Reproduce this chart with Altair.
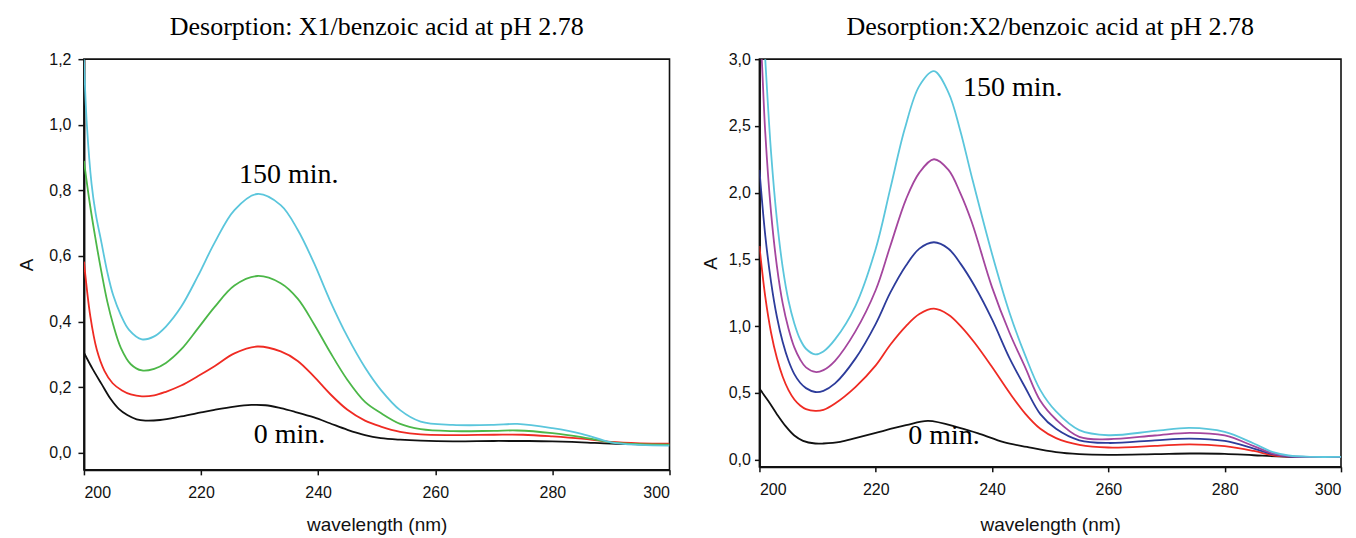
import altair as alt
import pandas as pd

# ---------------- Left panel: X1/benzoic acid ----------------
L_cyan_nm = [200, 200.5, 201.3, 202, 203, 204, 205, 206.3, 207.7, 209.9, 212, 214, 216.6, 219.5, 222.3, 225.7, 229.6, 233.6, 236.5, 239.3, 242, 245, 248, 250.7, 254, 257.5, 263, 270, 274, 280, 285, 290, 295, 300]
L_cyan_A = [1.2, 1.0, 0.82, 0.73, 0.64, 0.55, 0.48, 0.42, 0.375, 0.346, 0.355, 0.385, 0.445, 0.54, 0.64, 0.74, 0.789, 0.755, 0.68, 0.578, 0.465, 0.354, 0.26, 0.192, 0.13, 0.095, 0.085, 0.085, 0.088, 0.075, 0.058, 0.032, 0.024, 0.022]

L_green_nm = [200, 201, 202, 203, 204, 205, 206.3, 208, 209.9, 212, 214, 216.6, 219.5, 222.3, 225.7, 229.6, 233.6, 236.5, 239.3, 242, 245, 248, 250.7, 254, 257.5, 263, 270, 274, 280, 285, 290, 295, 300]
L_green_A = [0.89, 0.76, 0.65, 0.55, 0.46, 0.39, 0.32, 0.27, 0.251, 0.256, 0.274, 0.315, 0.38, 0.444, 0.51, 0.539, 0.517, 0.47, 0.392, 0.308, 0.222, 0.155, 0.121, 0.088, 0.072, 0.066, 0.067, 0.068, 0.06, 0.048, 0.032, 0.026, 0.025]

L_red_nm = [200, 201.1, 202.2, 203.5, 204.9, 206.5, 208, 209.9, 212, 214, 216.6, 219.5, 222.3, 225.7, 229.6, 233.6, 236.5, 239.3, 242, 245, 248, 250.7, 254, 257.5, 263, 270, 275, 280, 285, 290, 295, 300]
L_red_A = [0.583, 0.415, 0.314, 0.25, 0.212, 0.19, 0.178, 0.172, 0.175, 0.186, 0.205, 0.234, 0.264, 0.303, 0.324, 0.309, 0.28, 0.232, 0.18, 0.131, 0.098, 0.08, 0.064, 0.056, 0.054, 0.055, 0.055, 0.05, 0.043, 0.033, 0.029, 0.028]

L_black_nm = [200, 201.5, 203, 204.6, 206, 207.4, 209, 210.5, 213, 216.6, 220, 222.3, 225.7, 228.6, 231, 233.6, 236, 239.3, 242, 245, 248, 250.7, 254, 257.5, 263, 270, 276, 280, 285, 290, 295, 300]
L_black_A = [0.305, 0.255, 0.21, 0.163, 0.133, 0.115, 0.102, 0.098, 0.1, 0.111, 0.123, 0.131, 0.141, 0.146, 0.145, 0.136, 0.125, 0.108, 0.09, 0.07, 0.054, 0.045, 0.04, 0.037, 0.035, 0.036, 0.036, 0.035, 0.032, 0.028, 0.026, 0.025]

# ---------------- Right panel: X2/benzoic acid ----------------
R_cyan_nm = [200, 201, 202, 203, 204, 205, 206, 207, 208, 209.6, 211, 213, 216.5, 220, 222.5, 225, 227.5, 230, 232.5, 234.5, 236.5, 240, 243, 245.7, 248.3, 251, 255, 260, 268, 274, 280, 285, 288.3, 291, 295, 300]
R_cyan_A = [3.8, 3.0, 2.3, 1.8, 1.44, 1.19, 1.02, 0.9, 0.83, 0.788, 0.81, 0.9, 1.15, 1.58, 2.03, 2.48, 2.8, 2.91, 2.75, 2.47, 2.12, 1.54, 1.1, 0.78, 0.52, 0.36, 0.22, 0.182, 0.214, 0.237, 0.207, 0.12, 0.055, 0.03, 0.02, 0.02]

R_purple_nm = [200, 200.4, 201, 202, 203, 204, 205, 206, 207, 208, 209.6, 211, 213, 216.5, 220, 222.5, 225.2, 227.5, 230, 232.5, 234.5, 236.5, 240, 243, 245.7, 248.3, 251, 255, 260, 268, 274, 280, 285, 288.3, 291, 295, 300]
R_purple_A = [3.3, 3.0, 2.45, 1.85, 1.45, 1.17, 0.98, 0.84, 0.75, 0.69, 0.656, 0.67, 0.74, 0.96, 1.27, 1.6, 1.95, 2.15, 2.25, 2.17, 2.0, 1.78, 1.29, 0.95, 0.69, 0.44, 0.3, 0.17, 0.152, 0.18, 0.2, 0.18, 0.1, 0.045, 0.025, 0.02, 0.02]

R_blue_nm = [200, 201, 202, 203, 204, 205, 206, 207, 208, 209.6, 211, 213, 216.5, 220, 222.5, 225.2, 227.5, 230, 232.5, 234.6, 237, 240, 243, 245.7, 248.3, 251, 255, 260, 268, 274, 280, 285, 288.3, 291, 295, 300]
R_blue_A = [2.17, 1.68, 1.33, 1.07, 0.88, 0.74, 0.64, 0.575, 0.535, 0.506, 0.515, 0.57, 0.756, 1.017, 1.25, 1.454, 1.58, 1.628, 1.58, 1.466, 1.3, 1.05, 0.76, 0.54, 0.34, 0.23, 0.144, 0.124, 0.144, 0.157, 0.139, 0.082, 0.04, 0.022, 0.02, 0.02]

R_red_nm = [200, 201, 202, 203, 204, 205, 206, 207, 208, 209.6, 211, 213, 216.5, 220, 222.5, 225.2, 227.5, 230, 232.5, 234.6, 237, 240, 243, 245.7, 248.3, 251, 255, 260, 268, 274, 280, 285, 288.3, 291, 295, 300]
R_red_A = [1.6, 1.22, 0.95, 0.76, 0.62, 0.52, 0.45, 0.405, 0.378, 0.364, 0.372, 0.42, 0.543, 0.705, 0.86, 1.0, 1.09, 1.13, 1.085, 1.0, 0.875, 0.693, 0.5, 0.344, 0.23, 0.16, 0.11, 0.09, 0.102, 0.114, 0.1, 0.064, 0.032, 0.022, 0.02, 0.02]

R_black_nm = [200, 201.5, 203, 204.5, 206, 207.5, 209.6, 211, 213.9, 216.5, 220, 225.2, 229, 234.6, 238, 242, 246, 251, 255, 260, 268, 274, 280, 285, 290, 300]
R_black_A = [0.531, 0.44, 0.34, 0.25, 0.18, 0.14, 0.12, 0.12, 0.132, 0.16, 0.2, 0.257, 0.289, 0.235, 0.19, 0.13, 0.094, 0.055, 0.04, 0.035, 0.04, 0.045, 0.043, 0.032, 0.022, 0.02]

# annotations
L_labels = ["150 min.", "0 min."]
L_label_nm = [226.5, 229.0]
L_label_A = [0.821, 0.03]
R_labels = ["150 min.", "0 min."]
R_label_nm = [235.0, 225.6]
R_label_A = [2.725, 0.12]

TITLE_L = "Desorption: X1/benzoic acid at pH 2.78"
TITLE_R = "Desorption:X2/benzoic acid at pH 2.78"
X_TICKS = [200, 220, 240, 260, 280, 300]
L_Y_TICKS = [0.0, 0.2, 0.4, 0.6, 0.8, 1.0, 1.2]
R_Y_TICKS = [0.0, 0.5, 1.0, 1.5, 2.0, 2.5, 3.0]

CYAN = "#5bc6dc"
GREEN = "#4cb748"
RED = "#ef2b23"
BLACK = "#111111"
BLUE = "#2d3c9b"
PURPLE = "#a4469e"


def long_df(series):
    rows = []
    for name, xs, ys in series:
        for x, y in zip(xs, ys):
            rows.append({"nm": x, "A": y, "series": name})
    return pd.DataFrame(rows)


def panel(df, order, colors, ydom, yticks, title, ann, width, height,
          ytick_size, ylab_pad, ytitle_pad, xtitle_pad):
    lines = alt.Chart(df).mark_line(interpolate="catmull-rom", strokeWidth=1.8, clip=True).encode(
        x=alt.X("nm:Q",
                scale=alt.Scale(domain=[200, 300], nice=False, zero=False),
                axis=alt.Axis(values=X_TICKS, title="wavelength (nm)", format="d",
                              tickSize=5, labelPadding=10, titlePadding=xtitle_pad)),
        y=alt.Y("A:Q",
                scale=alt.Scale(domain=ydom, nice=False, zero=False),
                axis=alt.Axis(values=yticks, title="A",
                              labelExpr="replace(format(datum.value, '.1f'), '.', ',')",
                              tickSize=ytick_size, labelPadding=ylab_pad, titlePadding=ytitle_pad)),
        color=alt.Color("series:N", scale=alt.Scale(domain=order, range=colors), legend=None),
        order=alt.Order("nm:Q"),
    )
    text = alt.Chart(ann).mark_text(align="left", baseline="alphabetic",
                                    font="Liberation Serif", fontSize=28, color="black").encode(
        x="nm:Q", y="A:Q", text="label:N")
    return alt.layer(lines, text).properties(
        width=width, height=height,
        title=alt.TitleParams(title, font="Liberation Serif", fontSize=26, fontWeight="normal",
                              color="black", frame="group", anchor="middle",
                              baseline="bottom", offset=-15))


left_df = long_df([
    ("0 min", L_black_nm, L_black_A),
    ("a", L_red_nm, L_red_A),
    ("b", L_green_nm, L_green_A),
    ("150 min", L_cyan_nm, L_cyan_A),
])
right_df = long_df([
    ("0 min", R_black_nm, R_black_A),
    ("a", R_red_nm, R_red_A),
    ("b", R_blue_nm, R_blue_A),
    ("c", R_purple_nm, R_purple_A),
    ("150 min", R_cyan_nm, R_cyan_A),
])
left_ann = pd.DataFrame({"nm": L_label_nm, "A": L_label_A, "label": L_labels})
right_ann = pd.DataFrame({"nm": R_label_nm, "A": R_label_A, "label": R_labels})

left = panel(left_df, ["0 min", "a", "b", "150 min"], [BLACK, RED, GREEN, CYAN],
             [-0.052, 1.2], L_Y_TICKS, TITLE_L, left_ann, 586, 411,
             6, 7, 12, 15)
right = panel(right_df, ["0 min", "a", "b", "c", "150 min"], [BLACK, RED, BLUE, PURPLE, CYAN],
              [-0.055, 3.0], R_Y_TICKS, TITLE_R, right_ann, 582, 408,
              5, 4, 8, 18)

chart = alt.hconcat(left, right, spacing=90, bounds="flush").resolve_scale(
    color="independent", x="independent", y="independent"
).properties(
    padding={"left": 8, "top": 5, "right": 5, "bottom": 5}
).configure_view(
    stroke="#111111", strokeWidth=1.6
).configure_axis(
    grid=False, domainColor="#111111", domainWidth=2, tickColor="#111111", tickWidth=1.5,
    labelColor="#111111", labelFont="Liberation Sans", labelFontSize=16,
    titleFont="Liberation Sans", titleFontSize=19, titleFontWeight="normal", titleColor="#111111"
)

chart.save("out.html", embed_options={"renderer": "svg", "actions": False})
